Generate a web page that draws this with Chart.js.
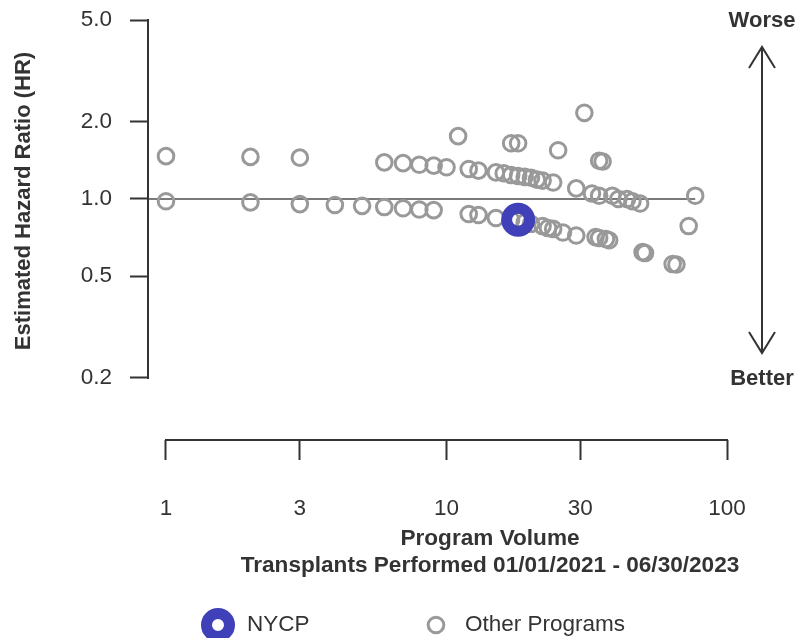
<!DOCTYPE html>
<html>
<head>
<meta charset="utf-8">
<script src="https://cdn.jsdelivr.net/npm/chart.js@4.4.1/dist/chart.umd.min.js"></script>
<style>
  html, body { margin: 0; padding: 0; background: #fff; }
</style>
</head>
<body>
<canvas id="chart" width="806" height="638"></canvas>
<script>
// program volume (transplants) and estimated hazard ratio
const nycpVolume = [18]
const nycpHR = [0.83]

const otherVolume = [
  1, 2, 3, 6, 7, 8, 9, 10, 11, 12, 13, 15, 16, 17, 18, 17, 18, 19, 20, 21,
  22, 24, 25, 29, 31, 33, 35, 35, 36, 39, 41, 44, 46, 49, 77,
  1, 2, 3, 4, 5, 6, 7, 8, 9, 12, 13, 15, 17, 19, 20, 22, 23, 24, 26, 29,
  34, 35, 37, 38, 50, 51, 64, 66, 73
]
const otherHR = [
  1.47, 1.46, 1.45, 1.39, 1.38, 1.36, 1.35, 1.33, 1.76, 1.31, 1.29, 1.27, 1.26, 1.65, 1.65, 1.24, 1.23, 1.22, 1.21, 1.19,
  1.18, 1.16, 1.55, 1.10, 2.17, 1.05, 1.03, 1.41, 1.40, 1.03, 1.00, 1.00, 0.98, 0.96, 1.03,
  0.98, 0.97, 0.955, 0.947, 0.94, 0.93, 0.92, 0.91, 0.905, 0.874, 0.866, 0.843, 0.83, 0.81, 0.80, 0.784, 0.77, 0.764, 0.74, 0.72,
  0.71, 0.704, 0.698, 0.69, 0.62, 0.615, 0.557, 0.555, 0.784
]

const xTicks = [1, 3, 10, 30, 100]
const yTicks = [0.2, 0.5, 1.0, 2.0, 5.0]
const refHR = 1.0
const refVolumeEnd = 77

const xTitle = ['Program Volume', 'Transplants Performed 01/01/2021 - 06/30/2023']
const yTitle = 'Estimated Hazard Ratio (HR)'

const X_MIN = 0.8627
const X_MAX = 191.2
const Y_MIN = 0.1145
const Y_MAX = 5.0

const FONT = '"Liberation Sans", Arial, Helvetica, sans-serif'
const INK = '#333333'
const NYCP_COLOR = '#4040b8'
const OTHER_COLOR = '#999999'

function toPoints(xs, ys) {
  return xs.map((v, i) => ({ x: v, y: ys[i] }))
}

// R style decorations: axis spines between the outer ticks, titles,
// the worse/better arrow and the legend row
const extras = {
  id: 'extras',
  afterDraw(chart) {
    const { ctx, scales: { x, y } } = chart
    ctx.save()
    ctx.strokeStyle = INK
    ctx.lineWidth = 2

    ctx.beginPath()
    ctx.moveTo(y.right, y.getPixelForValue(yTicks[0]) + 1)
    ctx.lineTo(y.right, y.getPixelForValue(yTicks[yTicks.length - 1]) - 1)
    ctx.stroke()

    ctx.beginPath()
    ctx.moveTo(x.getPixelForValue(xTicks[0]) - 1, x.top)
    ctx.lineTo(x.getPixelForValue(xTicks[xTicks.length - 1]) + 1, x.top)
    ctx.stroke()

    const ax = 762
    ctx.beginPath()
    ctx.moveTo(ax, 47)
    ctx.lineTo(ax, 353)
    ctx.moveTo(ax - 13, 68)
    ctx.lineTo(ax, 47)
    ctx.lineTo(ax + 13, 68)
    ctx.moveTo(ax - 13, 332)
    ctx.lineTo(ax, 353)
    ctx.lineTo(ax + 13, 332)
    ctx.stroke()

    ctx.fillStyle = INK
    ctx.textAlign = 'center'
    ctx.textBaseline = 'middle'
    ctx.font = 'bold 22px ' + FONT
    ctx.fillText('Worse', ax, 21)
    ctx.fillText('Better', ax, 379)

    ctx.save()
    ctx.translate(24, 201)
    ctx.rotate(-Math.PI / 2)
    ctx.fillText(yTitle, 0, 0)
    ctx.restore()

    ctx.font = 'bold 22.6px ' + FONT
    ctx.fillText(xTitle[0], 490, 539)
    ctx.fillText(xTitle[1], 490, 566)

    // legend
    const legendY = 625
    const items = [
      { ds: chart.data.datasets[0], cx: 218 },
      { ds: chart.data.datasets[1], cx: 436 }
    ]
    ctx.font = '22.5px ' + FONT
    ctx.textAlign = 'left'
    items.forEach(({ ds, cx }) => {
      ctx.strokeStyle = ds.pointBorderColor
      ctx.lineWidth = ds.pointBorderWidth
      ctx.beginPath()
      ctx.arc(cx, legendY, ds.pointRadius, 0, Math.PI * 2)
      ctx.stroke()
      ctx.fillStyle = INK
      ctx.fillText(ds.label, cx + 29, legendY)
    })
    ctx.restore()
  }
}

const ctx = document.getElementById('chart').getContext('2d')

new Chart(ctx, {
  type: 'scatter',
  data: {
    datasets: [
      {
        label: 'NYCP',
        data: toPoints(nycpVolume, nycpHR),
        pointBorderColor: NYCP_COLOR,
        pointBackgroundColor: 'rgba(0,0,0,0)',
        pointBorderWidth: 11,
        pointRadius: 11.5,
        order: 0
      },
      {
        label: 'Other Programs',
        data: toPoints(otherVolume, otherHR),
        pointBorderColor: OTHER_COLOR,
        pointBackgroundColor: 'rgba(0,0,0,0)',
        pointBorderWidth: 3,
        pointRadius: 7.8,
        order: 1
      },
      {
        type: 'line',
        label: 'reference',
        data: [{ x: X_MIN, y: refHR }, { x: refVolumeEnd, y: refHR }],
        borderColor: '#7a7a7a',
        borderWidth: 2,
        pointRadius: 0,
        fill: false,
        order: 2
      }
    ]
  },
  options: {
    responsive: false,
    animation: false,
    devicePixelRatio: 1,
    layout: { autoPadding: false, padding: { left: 0, right: 0, top: 20, bottom: 0 } },
    scales: {
      x: {
        type: 'logarithmic',
        min: X_MIN,
        max: X_MAX,
        afterBuildTicks: s => { s.ticks = xTicks.map(v => ({ value: v })) },
        afterFit: s => { s.height = 198 },
        ticks: {
          callback: v => String(v),
          padding: 35,
          maxRotation: 0,
          autoSkip: false,
          color: INK,
          font: { family: FONT, size: 22.5 }
        },
        grid: { drawOnChartArea: false, tickLength: 20, tickWidth: 2, tickColor: INK },
        border: { display: false }
      },
      y: {
        type: 'logarithmic',
        min: Y_MIN,
        max: Y_MAX,
        afterBuildTicks: s => { s.ticks = yTicks.map(v => ({ value: v })) },
        afterFit: s => { s.width = 148 },
        ticks: {
          callback: v => Number(v).toFixed(1),
          padding: 18,
          autoSkip: false,
          color: INK,
          font: { family: FONT, size: 22.5, lineHeight: 0.1 }
        },
        grid: { drawOnChartArea: false, tickLength: 18, tickWidth: 2, tickColor: INK },
        border: { display: false }
      }
    },
    plugins: {
      tooltip: { enabled: false },
      legend: { display: false }
    }
  },
  plugins: [extras]
})
</script>
</body>
</html>
